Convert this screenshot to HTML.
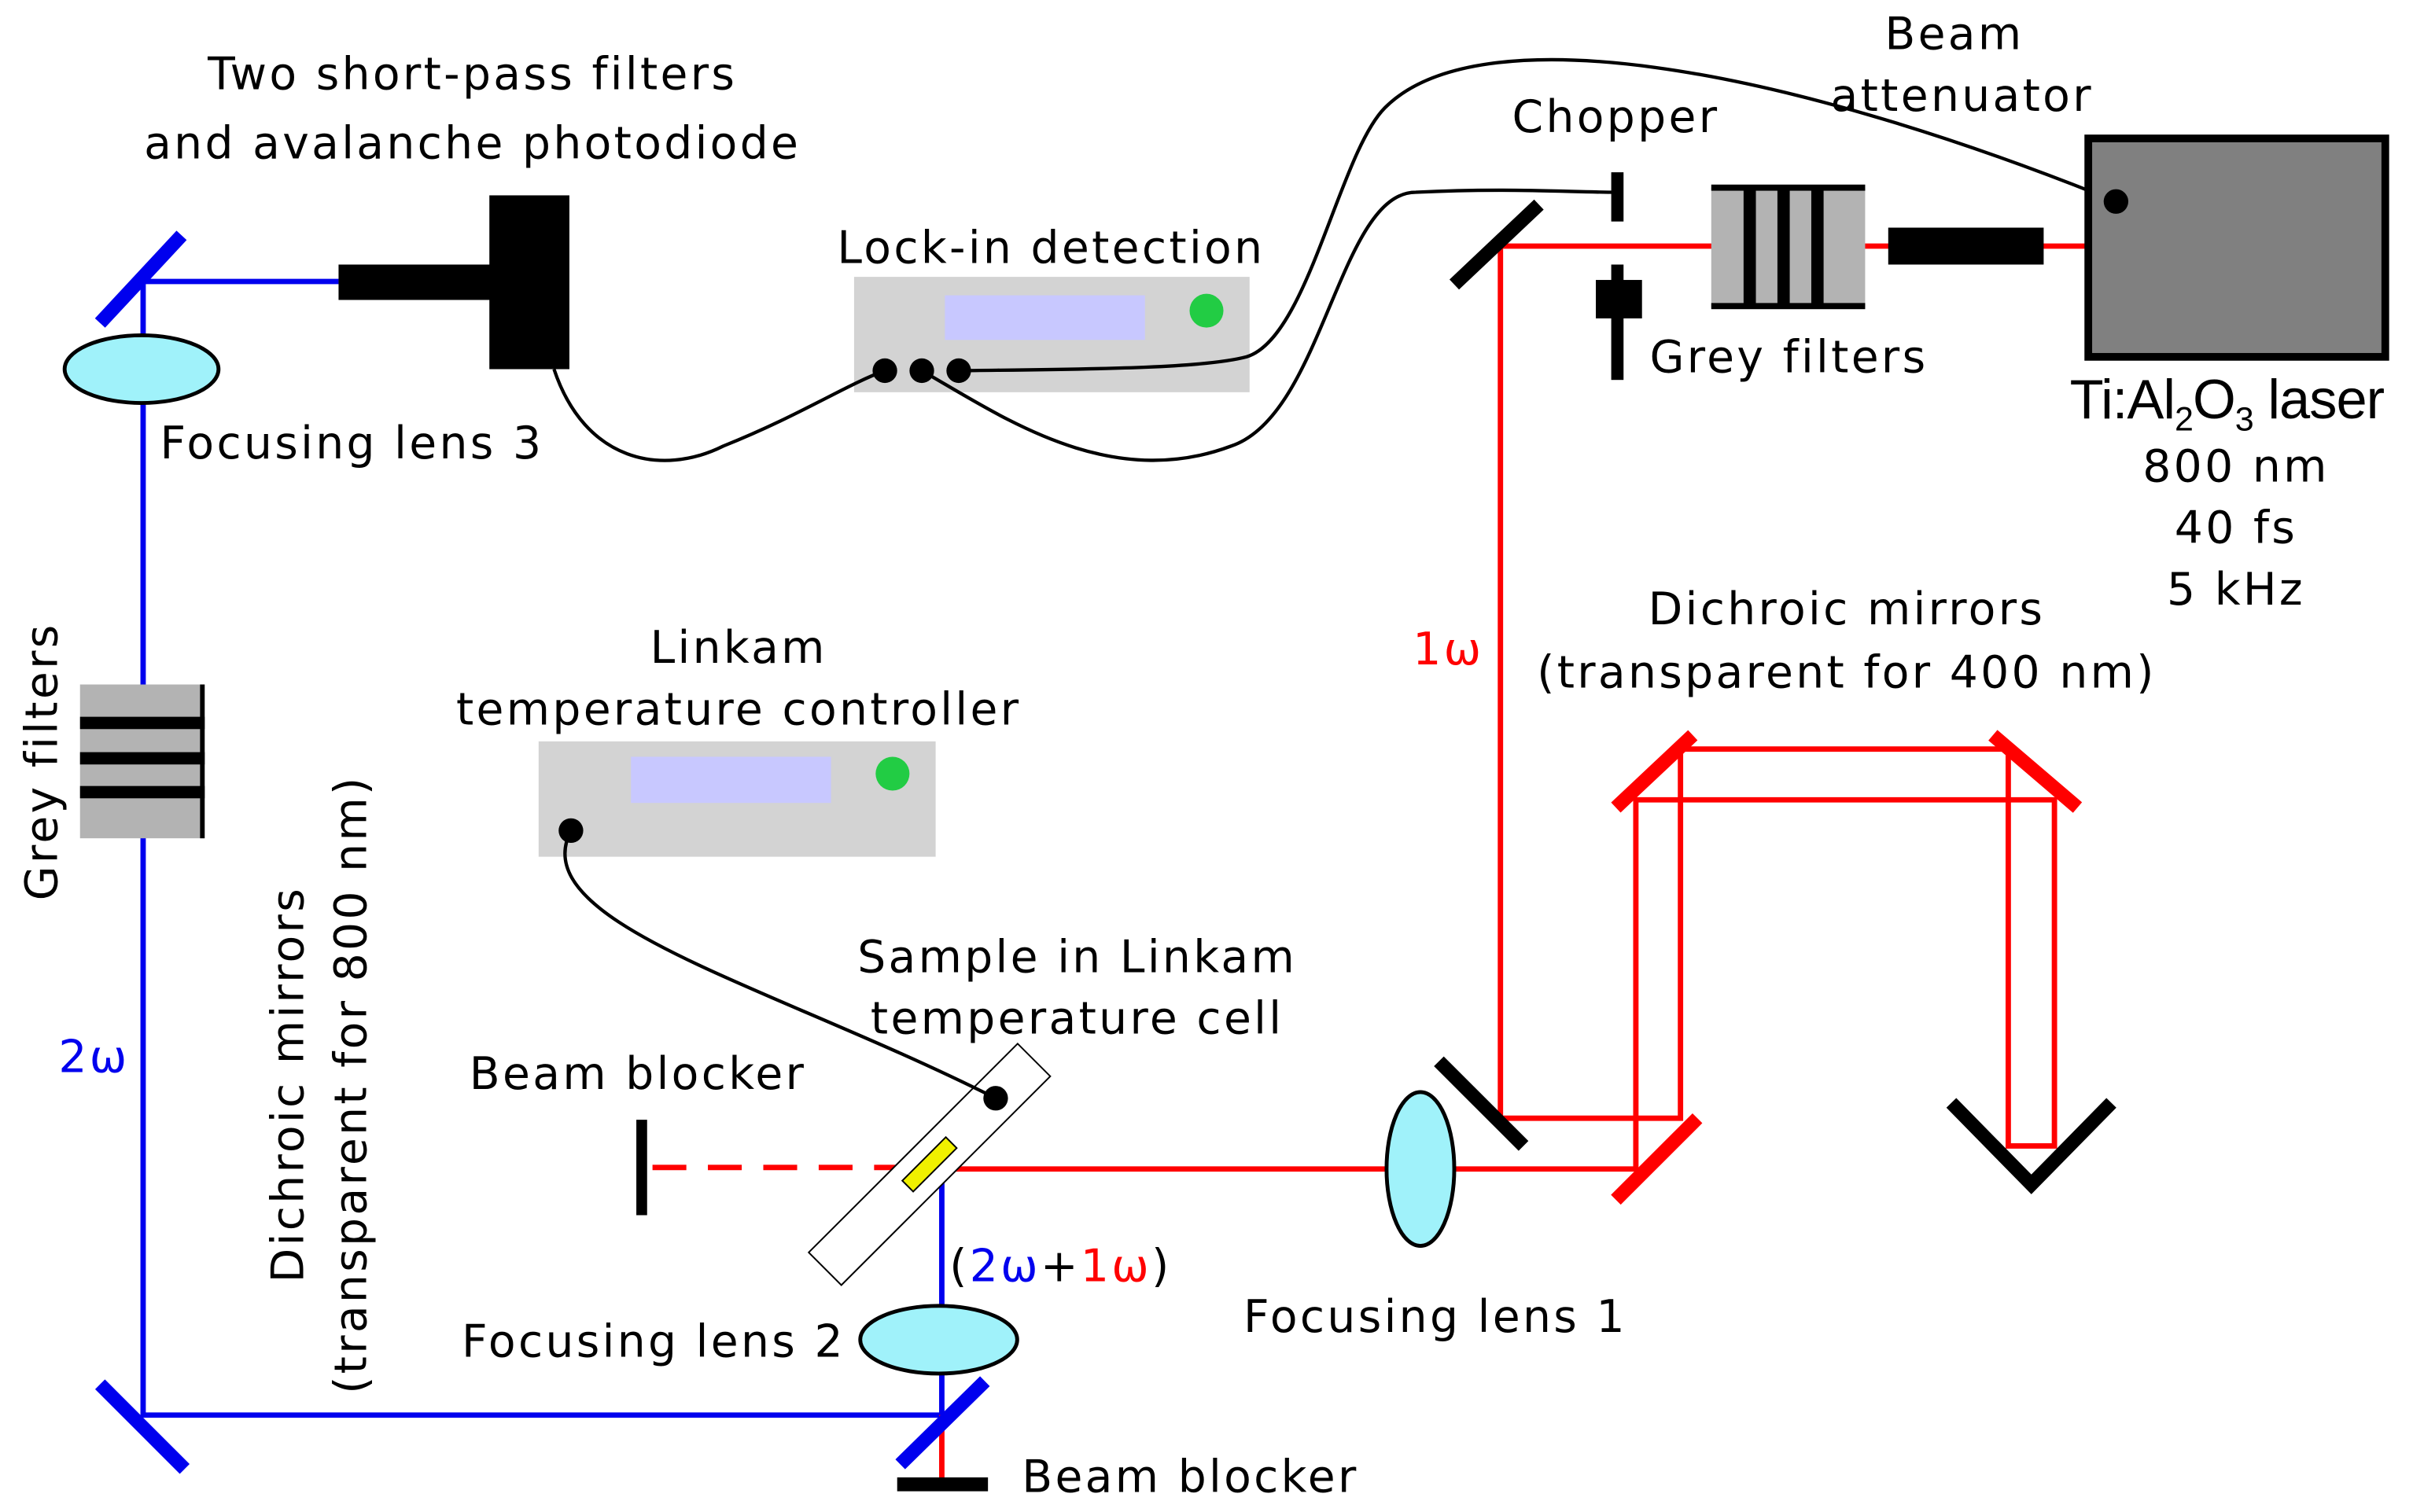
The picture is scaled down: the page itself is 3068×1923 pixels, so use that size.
<!DOCTYPE html>
<html><head><meta charset="utf-8"><style>
html,body{margin:0;padding:0;background:#fff}
svg{display:block}
text{font-family:"DejaVu Sans","Liberation Sans",sans-serif;font-size:29px;letter-spacing:1.7px;fill:#000}
</style></head><body>
<svg width="3068" height="1923" viewBox="0 0 1568 983" preserveAspectRatio="none" xmlns="http://www.w3.org/2000/svg">
<g stroke="#0000ee" stroke-width="3.5" fill="none">
<path d="M220 183 H93 V920 H612 V760"/>
</g>
<g stroke="#ff0000" stroke-width="3.5" fill="none">
<path d="M1357 160 H975 V727 H1092 V487 H1305 V745 H1335 V520 H1063 V760 H612"/>
<path d="M612 920 V965"/>
<path d="M590 759 H420" stroke-dasharray="22,14"/>
</g>
<g stroke="#0000ee" stroke-width="9">
<line x1="65" y1="210" x2="118" y2="153"/>
<line x1="65" y1="900" x2="120" y2="955"/>
<line x1="585" y1="952" x2="640" y2="898"/>
</g>
<g stroke="#ff0000" stroke-width="9">
<line x1="1050" y1="525" x2="1100" y2="478"/>
<line x1="1295" y1="478" x2="1350" y2="525"/>
<line x1="1050" y1="780" x2="1103" y2="727"/>
</g>
<g stroke="#000" stroke-width="9" fill="none">
<line x1="945" y1="185" x2="1000" y2="133"/>
<line x1="935" y1="690" x2="990" y2="745"/>
<path d="M1268 717 L1320 770 L1372 717"/>
<line x1="583" y1="965" x2="642" y2="965"/>
<line x1="417" y1="728" x2="417" y2="790" stroke-width="7"/>
</g>
<g fill="#a0f2fa" stroke="#000" stroke-width="2.5">
<ellipse cx="92" cy="240" rx="50" ry="22"/>
<ellipse cx="923" cy="760" rx="22" ry="50"/>
<ellipse cx="610" cy="871" rx="51" ry="22"/>
</g>
<rect x="220" y="172" width="102" height="23" fill="#000"/>
<rect x="318" y="127" width="52" height="113" fill="#000"/>
<rect x="52" y="445" width="81" height="100" fill="#b3b3b3"/>
<g fill="#000"><rect x="52" y="466" width="81" height="8"/><rect x="52" y="489" width="81" height="8"/><rect x="52" y="511" width="81" height="8"/><rect x="130" y="445" width="3" height="100"/></g>
<rect x="555" y="180" width="257" height="75" fill="#d3d3d3"/>
<rect x="614" y="192" width="130" height="29" fill="#c8c8ff"/>
<circle cx="784" cy="202" r="11" fill="#22cc44"/>
<rect x="350" y="482" width="258" height="75" fill="#d3d3d3"/>
<rect x="410" y="492" width="130" height="30" fill="#c8c8ff"/>
<circle cx="580" cy="503" r="11" fill="#22cc44"/>
<g transform="translate(604 757) rotate(-45)">
<rect x="-96" y="-15" width="192" height="30" fill="#fff" stroke="#000" stroke-width="1"/>
<rect x="-20" y="-5" width="40" height="10" fill="#f0f000" stroke="#000" stroke-width="1"/>
</g>
<g stroke="#000" stroke-width="2.2" fill="none">
<path d="M360 240 C380 300 430 310 470 290 C520 270 550 250 575 241"/>
<path d="M371 540 C340 600 500 640 647 714"/>
<path d="M623 241 C700 240 780 240 810 232 C850 220 870 100 900 70 C960 10 1150 40 1375 131"/>
<path d="M599 241 C650 270 720 320 800 290 C860 270 870 125 920 125 C980 122 1020 125 1050 125"/>
</g>
<g fill="#000">
<circle cx="575" cy="241" r="8"/><circle cx="599" cy="241" r="8"/><circle cx="623" cy="241" r="8"/>
<circle cx="371" cy="540" r="8"/><circle cx="647" cy="714" r="8"/>
</g>
<g fill="#000">
<rect x="1047" y="112" width="8" height="32"/>
<rect x="1047" y="172" width="8" height="75"/>
<rect x="1037" y="182" width="30" height="25"/>
</g>
<rect x="1112" y="122" width="100" height="78" fill="#b3b3b3"/>
<g fill="#000"><rect x="1112" y="120" width="100" height="4"/><rect x="1112" y="197" width="100" height="4"/>
<rect x="1133" y="122" width="8" height="78"/><rect x="1155" y="122" width="8" height="78"/><rect x="1177" y="122" width="8" height="78"/></g>
<rect x="1227" y="148" width="101" height="24" fill="#000"/>
<rect x="1357" y="90" width="193" height="142" fill="#808080" stroke="#000" stroke-width="5"/>
<circle cx="1375" cy="131" r="8" fill="#000"/>
<g text-anchor="middle">
<text x="307" y="58">Two short-pass filters</text>
<text x="307" y="103">and avalanche photodiode</text>
<text x="683" y="171">Lock-in detection</text>
<text x="1050" y="86">Chopper</text>
<text x="1270" y="32">Beam</text>
<text x="1275" y="72">attenuator</text>
<text x="1453" y="313">800 nm</text>
<text x="1453" y="353">40 fs</text>
<text x="1453" y="393">5 kHz</text>
<text x="1200" y="406">Dichroic mirrors</text>
<text x="1200" y="447">(transparent for 400 nm)</text>
<text x="480" y="431">Linkam</text>
<text x="480" y="471">temperature controller</text>
<text x="700" y="632">Sample in Linkam</text>
<text x="700" y="672">temperature cell</text>
</g>
<text x="104" y="298">Focusing lens 3</text>
<text x="1072" y="242">Grey filters</text>
<text x="1345" y="272" style="font-family:'Liberation Sans Narrow','Liberation Sans',sans-serif;font-size:36px;letter-spacing:-0.5px">Ti:Al<tspan font-size="22" dy="8">2</tspan><tspan dy="-8">O</tspan><tspan font-size="22" dy="8">3</tspan><tspan dy="-8"> laser</tspan></text>
<text x="918" y="432" style="fill:#ff0000">1ω</text>
<text x="305" y="708">Beam blocker</text>
<text x="617" y="833">(<tspan style="fill:#0000ee">2ω</tspan>+<tspan style="fill:#ff0000">1ω</tspan>)</text>
<text x="808" y="866">Focusing lens 1</text>
<text x="300" y="882">Focusing lens 2</text>
<text x="664" y="970">Beam blocker</text>
<text x="38" y="697" style="fill:#0000ee">2ω</text>
<text transform="translate(37 495) rotate(-90)" text-anchor="middle">Grey filters</text>
<text transform="translate(197 705) rotate(-90)" text-anchor="middle">Dichroic mirrors</text>
<text transform="translate(238 705) rotate(-90)" text-anchor="middle">(transparent for 800 nm)</text>
</svg>
</body></html>
